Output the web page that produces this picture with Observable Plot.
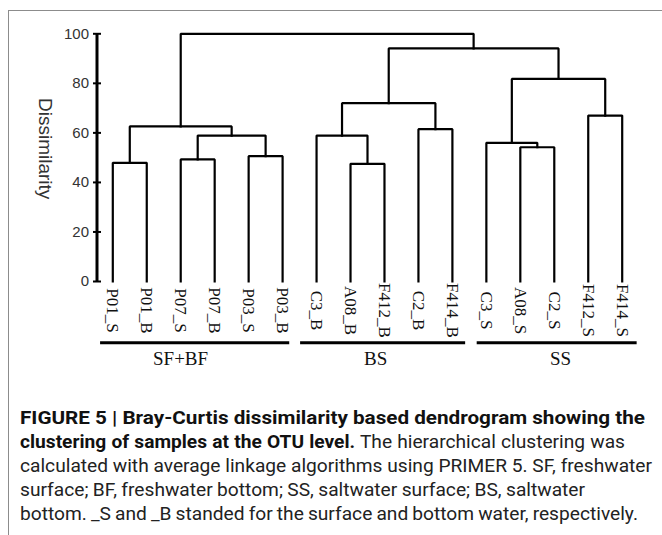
<!DOCTYPE html>
<html>
<head>
<meta charset="utf-8">
<script src="https://cdn.jsdelivr.net/npm/d3@7"></script>
<script src="https://cdn.jsdelivr.net/npm/@observablehq/plot@0.6"></script>
<style>
  html, body { margin: 0; padding: 0; background: #fff; width: 662px; height: 535px; overflow: hidden; }
  #frame { position: absolute; left: 8px; top: 10px; width: 700px; height: 600px;
           border-top: 1.5px solid #8c8c8c; border-left: 1.5px solid #8c8c8c; box-sizing: border-box; }
  #chart { position: absolute; left: 0; top: 0; }
  #caption { position: absolute; left: 20px; top: 406px; font-family: Roboto, "Liberation Sans", sans-serif;
             font-size: 18px; line-height: 24px; color: #222; }
  #caption div { white-space: nowrap; transform-origin: 0 0; }
  #caption b { color: #111; font-weight: 700; }
</style>
</head>
<body>
<div id="frame"></div>
<div id="chart"></div>
<div id="caption">
  <div><b>FIGURE 5 | Bray-Curtis dissimilarity based dendrogram showing the</b></div>
  <div><b>clustering of samples at the OTU level.</b> The hierarchical clustering was</div>
  <div>calculated with average linkage algorithms using PRIMER 5. SF, freshwater</div>
  <div>surface; BF, freshwater bottom; SS, saltwater surface; BS, saltwater</div>
  <div>bottom. _S and _B standed for the surface and bottom water, respectively.</div>
</div>
<script>
// ---------- data ----------
const leaves = ["P01_S","P01_B","P07_S","P07_B","P03_S","P03_B",
                "C3_B","A08_B","F412_B","C2_B","F414_B",
                "C3_S","A08_S","C2_S","F412_S","F414_S"];
const mergeIds    = ["m1","m2","m3","m4","m5","m6","m7","m8","m9","m10","m11","m12","m13","m14","m15"];
const mergeA      = ["P01_S","P07_S","P03_S","m2","m1","A08_B","C3_B","C2_B","m7","A08_S","C3_S","F412_S","m11","m9","m5"];
const mergeB      = ["P01_B","P07_B","P03_B","m3","m4","F412_B","m6","F414_B","m8","C2_S","m10","F414_S","m12","m13","m14"];
const mergeHeight = [47.9, 49.3, 50.6, 58.9, 62.6, 47.5, 58.9, 61.5, 72.0, 54.2, 56.0, 67.0, 81.8, 94.1, 100];
const yTicks = [0, 20, 40, 60, 80, 100];
const groupNames = ["SF+BF", "BS", "SS"];
const groupFirst = ["P01_S", "C3_B", "C3_S"];
const groupLast  = ["P03_B", "F414_B", "F414_S"];

// ---------- style ----------
const groupPad = [[0.36, 0.21], [0.47, 0.39], [0.27, 0.44]]; // in leaf spacing units
const groupLabelShift = [-0.43, -0.22, 0.1];                  // in leaf spacing units
const captionLineWidths = [625, 605, 632, 565, 618];          // px, as in the reference
const captionRefLine = 2;

// ---------- build dendrogram paths ----------
const xOf = {}, hOf = {};
leaves.forEach((l, i) => { xOf[l] = i; hOf[l] = 0; });
const paths = [];
mergeIds.forEach((id, k) => {
  const a = mergeA[k], b = mergeB[k], h = mergeHeight[k];
  const xa = xOf[a], xb = xOf[b];
  paths.push({id, x: xa, y: hOf[a]}, {id, x: xa, y: h}, {id, x: xb, y: h}, {id, x: xb, y: hOf[b]});
  xOf[id] = (xa + xb) / 2;
  hOf[id] = h;
});
const groups = groupNames.map((name, i) => {
  const f = leaves.indexOf(groupFirst[i]), l = leaves.indexOf(groupLast[i]);
  const x1 = f - groupPad[i][0], x2 = l + groupPad[i][1];
  return {name, x1, x2, xm: (x1 + x2) / 2 + groupLabelShift[i]};
});
const leafData = leaves.map((name, i) => ({name, i}));

const chart = Plot.plot({
  width: 662,
  height: 380,
  marginLeft: 96.5,
  marginRight: 20,
  marginTop: 33.3,
  marginBottom: 99,
  style: {background: "transparent", overflow: "visible"},
  x: {domain: [0, 15], range: [112.3, 621.7], axis: null},
  y: {domain: [0, 100], range: [281, 33.3], axis: null},
  marks: [
    // y axis line
    Plot.ruleX([0], {y1: 0, y2: 100, dx: -15.8, stroke: "#000", strokeWidth: 3}),
    // ticks crossing the axis
    Plot.axisY({ticks: yTicks, tickSize: 8, dx: 4.5, tickFormat: () => "", label: null, stroke: "#000", strokeWidth: 2}),
    // tick labels
    Plot.axisY({ticks: yTicks, tickSize: 0, tickPadding: 8, label: null, fill: "#333",
                fontSize: 15, fontFamily: "Liberation Sans, Arial, sans-serif"}),
    Plot.text(["Dissimilarity"], {frameAnchor: "left", textAnchor: "middle", lineAnchor: "middle",
                dx: -51.5, dy: -9, rotate: 90, text: d => d,
                fontSize: 19, fill: "#333", fontFamily: "Liberation Sans, Arial, sans-serif"}),
    // dendrogram
    Plot.line(paths, {x: "x", y: "y", z: "id", stroke: "#000", strokeWidth: 2.2,
                      strokeLinejoin: "miter", strokeLinecap: "square"}),
    // leaf labels
    Plot.text(leafData, {x: "i", y: 0, dy: 29, rotate: 90, text: "name", fontSize: 17, fill: "#111",
                         fontFamily: "Liberation Serif, Times New Roman, serif"}),
    // group bars
    Plot.ruleY(groups, {x1: "x1", x2: "x2", y: 0, dy: 61.3, stroke: "#000", strokeWidth: 3}),
    // group labels
    Plot.text(groups, {x: "xm", y: 0, dy: 77, text: "name", fontSize: 19, fill: "#111",
                       fontFamily: "Liberation Serif, Times New Roman, serif"})
  ]
});
document.getElementById("chart").appendChild(chart);

// caption: bold first line is scaled on its own; the other lines share one horizontal
// scale and get a per-line word spacing so their ends match the reference
const cap = document.getElementById("caption");
const lines = [...cap.querySelectorAll("div")];
const widthOf = div => { const r = document.createRange(); r.selectNodeContents(div); return r.getBoundingClientRect().width; };
const natural = lines.map(widthOf);
if (natural[captionRefLine] > 0) {
  const s = captionLineWidths[captionRefLine] / natural[captionRefLine];
  lines.forEach((div, i) => {
    if (i === 0) {
      div.style.transform = `scaleX(${captionLineWidths[0] / natural[0]})`;
      return;
    }
    const spaces = (div.textContent.trim().match(/ /g) || []).length;
    const extra = (captionLineWidths[i] / s - natural[i]) / Math.max(spaces, 1);
    div.style.wordSpacing = `${extra}px`;
    div.style.transform = `scaleX(${s})`;
  });
}
</script>
</body>
</html>
